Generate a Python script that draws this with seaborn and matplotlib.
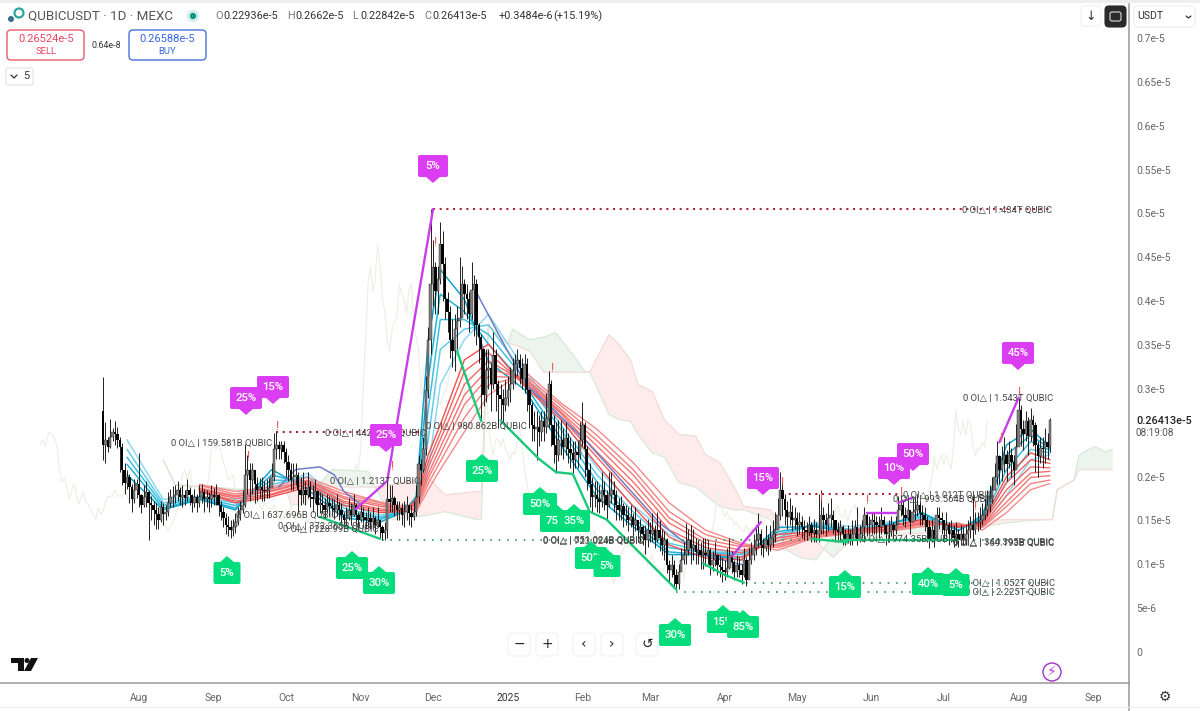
import numpy as np
import pandas as pd
import matplotlib
matplotlib.use('Agg')
import matplotlib.pyplot as plt
from matplotlib.patches import FancyBboxPatch, Rectangle, Circle, Polygon
import seaborn as sns

# --- DATA (precio en unidades de 1e-5, una vela por día) ---
START = '2024-07-17'
FIRST_OPEN = 0.275

close = [
    .236,.242,.234,.245,.251,.248,.242,.234,.208,.193,
    .199,.188,.174,.185,.191,.179,.168,.177,.182,.170,
    .168,.162,.157,.151,.165,.157,.160,.170,.177,.177,
    .179,.185,.177,.179,.176,.185,.179,.170,.177,.170,
    .177,.182,.174,.177,.174,.179,.177,.179,.168,.160,
    .153,.145,.143,.139,.143,.148,.156,.162,.168,.202,
    .208,.196,.208,.191,.185,.188,.185,.183,.185,.187,
    .199,.231,.236,.231,.236,.228,.217,.208,.196,.199,
    .202,.185,.179,.185,.179,.188,.177,.174,.183,.168,
    .170,.168,.162,.170,.166,.164,.162,.168,.162,.156,
    .151,.153,.162,.156,.168,.156,.151,.160,.154,.151,
    .153,.148,.153,.145,.151,.142,.136,.139,.174,.171,
    .176,.168,.162,.164,.156,.160,.168,.159,.154,.160,
    .177,.214,.208,.231,.299,.356,.419,.439,.411,.425,
    .465,.442,.402,.388,.356,.343,.368,.377,.381,.419,
    .408,.402,.385,.413,.419,.373,.359,.345,.293,.322,
    .324,.305,.339,.305,.293,.288,.282,.290,.299,.305,
    .320,.328,.333,.324,.311,.328,.299,.282,.259,.254,
    .256,.251,.263,.256,.267,.305,.259,.236,.225,.242,
    .242,.234,.244,.231,.227,.219,.228,.225,.242,.259,
    .231,.208,.191,.177,.179,.174,.171,.185,.179,.168,
    .179,.185,.179,.168,.162,.166,.156,.156,.151,.154,
    .145,.151,.139,.142,.134,.128,.139,.134,.139,.128,
    .139,.130,.122,.128,.099,.094,.099,.088,.077,.091,
    .105,.111,.116,.128,.119,.122,.114,.116,.111,.113,
    .111,.116,.099,.105,.111,.099,.097,.094,.091,.096,
    .111,.103,.091,.099,.094,.088,.105,.082,.105,.111,
    .119,.128,.134,.122,.119,.128,.122,.130,.134,.139,
    .156,.185,.174,.162,.154,.160,.151,.153,.145,.148,
    .143,.139,.137,.145,.136,.139,.134,.139,.156,.151,
    .145,.153,.156,.151,.139,.137,.142,.134,.128,.134,
    .128,.134,.142,.128,.134,.143,.156,.145,.145,.151,
    .148,.145,.142,.151,.145,.134,.137,.145,.139,.145,
    .162,.168,.156,.153,.162,.148,.160,.162,.168,.159,
    .156,.151,.142,.128,.139,.128,.156,.153,.151,.139,
    .145,.134,.139,.130,.134,.128,.134,.128,.134,.139,
    .145,.139,.147,.148,.151,.156,.162,.168,.174,.185,
    .199,.223,.208,.219,.225,.214,.225,.217,.208,.234,
    .276,.254,.248,.263,.246,.265,.259,.236,.223,.233,
    .231,.239,.234,.26413,
]
high = [
    .314,.262,.245,.266,.255,.263,.256,.245,.238,.215,
    .208,.203,.192,.197,.197,.227,.180,.190,.195,.185,
    .178,.172,.170,.165,.172,.170,.168,.182,.186,.189,
    .190,.195,.188,.190,.185,.197,.188,.180,.186,.180,
    .190,.192,.186,.185,.182,.190,.187,.192,.180,.172,
    .165,.158,.155,.150,.152,.158,.165,.172,.185,.237,
    .225,.215,.215,.205,.200,.198,.200,.195,.197,.198,
    .215,.250,.251,.240,.240,.240,.232,.225,.215,.215,
    .215,.205,.200,.205,.195,.205,.195,.190,.197,.185,
    .182,.180,.175,.180,.178,.176,.174,.180,.172,.170,
    .160,.165,.175,.170,.180,.170,.160,.170,.165,.160,
    .165,.160,.165,.155,.165,.150,.145,.148,.197,.190,
    .190,.178,.172,.172,.170,.172,.178,.168,.168,.172,
    .190,.225,.220,.245,.315,.370,.505,.470,.445,.440,
    .490,.480,.450,.410,.395,.380,.385,.395,.450,.440,
    .425,.420,.410,.445,.430,.425,.375,.362,.345,.345,
    .345,.330,.365,.345,.310,.305,.300,.310,.315,.325,
    .335,.340,.345,.340,.335,.340,.335,.300,.285,.275,
    .275,.270,.275,.275,.295,.320,.310,.270,.262,.265,
    .265,.255,.262,.250,.245,.240,.240,.240,.262,.285,
    .262,.235,.215,.200,.195,.195,.190,.205,.195,.185,
    .205,.205,.195,.185,.175,.178,.170,.168,.165,.168,
    .158,.165,.150,.152,.145,.145,.152,.148,.158,.145,
    .160,.150,.140,.138,.130,.105,.110,.105,.095,.100,
    .118,.125,.147,.140,.145,.140,.130,.128,.125,.130,
    .130,.128,.118,.115,.125,.112,.110,.108,.105,.118,
    .130,.115,.105,.110,.108,.100,.118,.108,.120,.125,
    .135,.145,.158,.140,.130,.145,.135,.145,.150,.160,
    .175,.205,.200,.180,.172,.175,.168,.165,.160,.160,
    .155,.150,.148,.155,.148,.152,.148,.180,.185,.165,
    .158,.170,.175,.162,.150,.148,.150,.145,.140,.145,
    .140,.150,.150,.165,.145,.150,.165,.160,.155,.160,
    .160,.155,.155,.165,.155,.145,.150,.155,.148,.155,
    .178,.180,.172,.165,.175,.162,.175,.178,.180,.172,
    .168,.165,.155,.150,.152,.145,.165,.165,.160,.150,
    .160,.148,.150,.145,.148,.140,.145,.142,.145,.150,
    .155,.178,.160,.160,.165,.170,.175,.185,.190,.200,
    .215,.240,.225,.235,.245,.230,.240,.232,.225,.260,
    .290,.282,.265,.275,.268,.278,.270,.262,.240,.245,
    .245,.255,.250,.2662,
]
low = [
    .219,.215,.228,.232,.240,.236,.232,.205,.190,.180,
    .186,.170,.160,.170,.175,.165,.158,.165,.165,.128,
    .150,.145,.140,.140,.148,.145,.150,.155,.165,.165,
    .170,.172,.167,.165,.168,.172,.168,.160,.165,.160,
    .165,.170,.160,.165,.160,.165,.168,.168,.155,.150,
    .142,.135,.132,.130,.132,.136,.145,.150,.158,.165,
    .180,.172,.180,.170,.172,.175,.172,.172,.175,.175,
    .190,.195,.220,.220,.220,.215,.200,.195,.185,.185,
    .190,.160,.168,.170,.168,.175,.165,.160,.170,.155,
    .158,.158,.152,.158,.155,.155,.152,.155,.150,.145,
    .142,.145,.150,.145,.155,.145,.140,.148,.142,.140,
    .142,.140,.142,.135,.142,.130,.128,.128,.130,.160,
    .160,.155,.150,.150,.145,.142,.150,.145,.142,.150,
    .155,.170,.190,.205,.225,.290,.340,.395,.385,.385,
    .420,.400,.380,.365,.335,.325,.320,.345,.370,.390,
    .385,.380,.365,.380,.360,.350,.330,.263,.280,.285,
    .300,.275,.300,.275,.255,.260,.262,.275,.280,.285,
    .300,.305,.315,.305,.300,.295,.275,.255,.240,.240,
    .219,.235,.240,.240,.250,.255,.235,.215,.204,.218,
    .225,.220,.225,.215,.210,.202,.210,.210,.220,.235,
    .200,.185,.165,.160,.165,.160,.158,.165,.162,.152,
    .165,.170,.160,.150,.150,.150,.142,.145,.138,.142,
    .132,.138,.125,.125,.122,.112,.120,.125,.125,.118,
    .125,.115,.110,.105,.090,.080,.085,.075,.071,.072,
    .095,.100,.100,.110,.100,.105,.100,.100,.095,.095,
    .098,.100,.088,.092,.098,.088,.085,.080,.082,.085,
    .095,.090,.082,.085,.085,.078,.085,.075,.085,.100,
    .105,.110,.120,.110,.108,.115,.110,.115,.120,.125,
    .145,.150,.155,.145,.140,.145,.138,.140,.132,.135,
    .130,.128,.128,.132,.125,.125,.125,.125,.135,.135,
    .132,.138,.142,.135,.125,.125,.128,.122,.122,.124,
    .122,.122,.130,.122,.125,.130,.125,.132,.133,.135,
    .135,.135,.130,.135,.135,.122,.125,.132,.130,.135,
    .148,.155,.145,.142,.150,.135,.148,.150,.155,.145,
    .145,.138,.125,.118,.125,.120,.130,.140,.135,.125,
    .130,.122,.125,.120,.122,.120,.122,.122,.122,.125,
    .130,.128,.135,.138,.140,.145,.150,.155,.160,.170,
    .185,.190,.192,.195,.205,.195,.210,.200,.190,.215,
    .245,.235,.230,.240,.225,.240,.235,.205,.200,.215,
    .210,.215,.220,.22842,
]

knots = [10,25,40,55,70,85,100,115,125,130,135,140,150,160,175,190,205,220,235,250,265,280,295,310,325,340,355,365,375,385,393]
blue1 = [.202,.162,.174,.162,.208,.185,.153,.148,.160,.177,.356,.436,.402,.331,.299,.236,.177,.143,.111,.111,.105,.142,.143,.136,.143,.159,.138,.156,.236,.254,.234]
blue2 = [.214,.164,.175,.164,.202,.191,.156,.151,.161,.174,.311,.408,.388,.351,.305,.244,.185,.148,.114,.111,.108,.137,.144,.137,.144,.158,.139,.153,.225,.247,.232]
blue3 = [.222,.167,.176,.167,.196,.195,.160,.153,.162,.170,.276,.379,.379,.362,.311,.254,.194,.153,.119,.113,.111,.134,.145,.138,.145,.155,.142,.150,.208,.240,.230]
blue4 = [.231,.170,.177,.170,.191,.200,.164,.154,.163,.167,.242,.345,.368,.373,.316,.259,.202,.160,.124,.114,.113,.130,.146,.140,.146,.153,.144,.146,.194,.231,.227]
blue5 = [.242,.174,.177,.174,.185,.204,.168,.156,.164,.162,.208,.305,.356,.385,.322,.267,.210,.167,.134,.116,.114,.126,.148,.143,.148,.151,.146,.143,.179,.219,.225]

red_knots = knots[2:]
red1 = [.183,.170,.177,.188,.167,.159,.160,.174,.225,.259,.333,.351,.303,.265,.214,.166,.122,.107,.105,.134,.137,.139,.143,.151,.142,.148,.200,.227,.219]
red2 = [.184,.172,.179,.191,.170,.161,.161,.171,.217,.250,.320,.341,.305,.268,.222,.177,.131,.113,.108,.130,.136,.138,.142,.150,.143,.147,.193,.219,.215]
red3 = [.185,.175,.180,.192,.172,.163,.162,.169,.210,.242,.305,.332,.308,.272,.228,.187,.139,.119,.113,.127,.135,.137,.140,.148,.144,.146,.185,.211,.210]
red4 = [.186,.177,.183,.194,.175,.166,.163,.167,.203,.233,.293,.323,.311,.274,.235,.194,.147,.124,.116,.123,.134,.137,.139,.147,.145,.144,.178,.204,.206]
red5 = [.187,.178,.184,.195,.177,.168,.163,.164,.198,.225,.282,.314,.313,.277,.241,.202,.153,.128,.120,.121,.132,.136,.139,.146,.145,.143,.171,.199,.201]
red6 = [.190,.180,.186,.196,.180,.170,.164,.162,.192,.217,.267,.304,.316,.281,.247,.208,.160,.134,.122,.119,.131,.136,.138,.145,.146,.142,.166,.192,.196]
red7 = [.191,.183,.188,.199,.183,.171,.166,.160,.185,.208,.251,.293,.320,.284,.254,.216,.170,.139,.124,.116,.130,.135,.137,.143,.147,.139,.159,.185,.192]

slate_a_idx = [73,80,90,96,100,107]
slate_a = [.188,.208,.211,.202,.183,.168]
slate_b_idx = [155,166,176,184,201,231,248,266]
slate_b = [.410,.353,.303,.284,.239,.147,.111,.099]

# nube ichimoku
cloud_idx = [25,30,60,76,78,84,88,95,110,113,120,135,142,155,157,160,168,170,177,183,188,195,200,202,210,214,219,222,228,233,239,246,250,256,262,266,277,281,290,296,303,310,320,335,345,355,365,375,385,394,396,403,405,409,412,416,419]
span_a = [.219,.191,.185,.185,.168,.168,.185,.208,.206,.188,.151,.156,.160,.151,.151,.373,.351,.368,.356,.359,.364,.339,.320,.319,.271,.265,.263,.248,.227,.222,.193,.188,.179,.166,.162,.162,.151,.120,.107,.105,.134,.139,.139,.142,.142,.143,.143,.147,.150,.151,.185,.196,.224,.231,.234,.228,.231]
span_b = [.219,.190,.183,.185,.188,.188,.186,.188,.188,.188,.191,.199,.179,.183,.183,.373,.351,.351,.343,.319,.319,.319,.319,.319,.362,.351,.333,.305,.297,.265,.248,.246,.225,.216,.188,.166,.162,.145,.131,.126,.108,.126,.130,.135,.136,.142,.150,.151,.151,.151,.185,.196,.208,.208,.208,.208,.208]

# zigzags (vela, precio)
pump_legs = [
    ([105,118,137], [.163,.195,.505]),
    ([261,273], [.109,.148]),
    ([317,329], [.159,.159]),
    ([330,336], [.170,.176]),
    ([372,380], [.239,.290]),
]
drop_legs = [
    ([90,115], [.154,.129]),
    ([147,157], [.343,.263]),
    ([165,181,188,195,202,209,238], [.264,.220,.205,.203,.160,.151,.071]),
    ([249,258,266], [.101,.088,.079]),
    ([294,309], [.129,.125]),
    ([307,355], [.128,.128]),
]

# niveles punteados (precio, vela inicial, vela final)
res_levels = [(.505,137,394), (.2505,72,133), (.180,282,330)]
sup_levels = [(.128,116,394), (.079,267,394), (.0685,238,394)]

price_ticks = [0,.05,.1,.15,.2,.3,.35,.4,.45,.5,.55,.6,.65,.7]
price_labels = ['0','5e-6','0.1e-5','0.15e-5','0.2e-5','0.3e-5','0.35e-5','0.4e-5','0.45e-5','0.5e-5','0.55e-5','0.6e-5','0.65e-5','0.7e-5']
month_labels = ['Aug','Sep','Oct','Nov','Dec','2025','Feb','Mar','Apr','May','Jun','Jul','Aug','Sep']

oi_labels = [
    (171,443,'0 OI△ | 159.581B QUBIC'),
    (325,433,'0 OI△ | 442.315B QUBIC'),
    (330,481,'0 OI△ | 1.213T QUBIC'),
    (236,515,'0 OI△ | 637.696B QUBIC'),
    (278,526,'0 OI△ | 372.365B QUBIC'),
    (283,529,'0 OI△ | 228.99B QUBIC'),
    (426,426,'0 OI△ | 980.862B QUBIC'),
    (543,540,'0 OI△ | 551.024B QUBIC'),
    (543,541,'0 OI△ | 723.024B QUBIC'),
    (962,210,'0 OI△ | 1.434T QUBIC'),
    (963,398,'0 OI△ | 1.543T QUBIC'),
    (903,495,'0 OI△ | 1.012T QUBIC'),
    (893,499,'0 OI△ | 993.564B QUBIC'),
    (861,539,'0 OI△ | 974.35B QUBIC'),
    (953,542,'0 OI△ | 344.395B QUBIC'),
    (953,543,'0 OI△ | 169.193B QUBIC'),
    (965,583,'0 OI△ | 1.052T QUBIC'),
    (965,592,'0 OI△ | 2.225T QUBIC'),
]
alert_marks = [(248,457),(277,427),(392,467),(418,477),(435,243),(552,368),(782,483),(821,499),(867,500),(901,492),(975,507),(1001,438),(1019,392)]

MAGENTA = '#db3df2'
GREEN = '#03dd7c'
# (centro x, centro y, ancho, texto, color, flecha arriba)
callouts = [
    (433,166,30,'5%',MAGENTA,False),
    (246,398,32,'25%',MAGENTA,False),
    (273,387,32,'15%',MAGENTA,False),
    (386,435,32,'25%',MAGENTA,False),
    (763,478,32,'15%',MAGENTA,False),
    (894,468,32,'10%',MAGENTA,False),
    (913,454,32,'50%',MAGENTA,False),
    (1018,353,32,'45%',MAGENTA,False),
    (227,573,27,'5%',GREEN,True),
    (352,568,32,'25%',GREEN,True),
    (379,583,32,'30%',GREEN,True),
    (482,471,32,'25%',GREEN,True),
    (540,504,34,'50%',GREEN,True),
    (556,521,32,'75%',GREEN,True),
    (574,521,32,'35%',GREEN,True),
    (591,558,32,'50%',GREEN,True),
    (607,566,27,'5%',GREEN,True),
    (675,635,32,'30%',GREEN,True),
    (723,622,32,'15%',GREEN,True),
    (743,627,32,'85%',GREEN,True),
    (845,587,32,'15%',GREEN,True),
    (928,584,32,'40%',GREEN,True),
    (956,585,27,'5%',GREEN,True),
]

# --- FIGURA ---
sns.set_theme(style='white')
plt.rcParams['font.family'] = ['Roboto', 'DejaVu Sans']

fig = plt.figure(figsize=(12, 7.11), dpi=100, facecolor='white')
ax = fig.add_axes([0, 28/711, 1129/1200, 679/711])

idx = np.arange(len(close))
opens = np.array([FIRST_OPEN] + close[:-1])
closes = np.array(close)
start = pd.Timestamp(START)

# nube
cx = np.array(cloud_idx)
sa = np.array(span_a)
sb = np.array(span_b)
ax.fill_between(cx, sa, sb, where=sa >= sb, interpolate=True, color='#ebf5ed', lw=0, zorder=1)
ax.fill_between(cx, sa, sb, where=sa <= sb, interpolate=True, color='#fdeceb', lw=0, zorder=1)
sns.lineplot(x=cx, y=sa, color='#d8ead9', lw=0.9, sort=False, estimator=None, ax=ax, zorder=1.2)
sns.lineplot(x=cx, y=sb, color='#f2dcd6', lw=0.9, sort=False, estimator=None, ax=ax, zorder=1.2)

# línea retrasada
sns.lineplot(x=idx - 26, y=closes, color='#f0efe6', lw=0.9, sort=False, estimator=None, ax=ax, zorder=1.3)

# cintas
for line, col in zip([blue5, blue4, blue3, blue2, blue1], ['#8fd8f0', '#62cbe8', '#3cc0e0', '#1fb4d8', '#12a4cc']):
    sns.lineplot(x=knots, y=line, color=col, lw=1.1, sort=False, estimator=None, ax=ax, zorder=2)
for line, col in zip([red7, red6, red5, red4, red3, red2, red1], ['#f58a8a', '#f58080', '#f47878', '#f47070', '#f36868', '#f26060', '#ef4f4f']):
    sns.lineplot(x=red_knots, y=line, color=col, lw=1.0, sort=False, estimator=None, ax=ax, zorder=2.1)
sns.lineplot(x=slate_a_idx, y=slate_a, color='#6f7fc8', lw=1.1, sort=False, estimator=None, ax=ax, zorder=2.2)
sns.lineplot(x=slate_b_idx, y=slate_b, color='#6f7fc8', lw=1.1, sort=False, estimator=None, ax=ax, zorder=2.2)

# velas
ax.vlines(idx, low, high, color='#111111', lw=0.65, zorder=3)
up = closes >= opens
bottoms = np.minimum(opens, closes)
heights = np.abs(closes - opens)
ax.bar(idx[up], heights[up], bottom=bottoms[up], width=1.0, color='#808080', edgecolor='#222222', lw=0.3, zorder=3.1)
ax.bar(idx[~up], heights[~up], bottom=bottoms[~up], width=1.0, color='#000000', lw=0, zorder=3.1)

# zigzags y niveles
for xs, ys in pump_legs:
    sns.lineplot(x=xs, y=ys, color='#c83cec', lw=1.7, sort=False, estimator=None, ax=ax, zorder=4)
for xs, ys in drop_legs:
    sns.lineplot(x=xs, y=ys, color='#19c878', lw=1.7, sort=False, estimator=None, ax=ax, zorder=4)
for p, a, b in res_levels:
    ax.plot([a, b], [p, p], color='#a52a3a', lw=1.5, ls=(0, (1, 2.2)), zorder=2.5)
for p, a, b in sup_levels:
    ax.plot([a, b], [p, p], color='#3a9a5e', lw=1.2, ls=(0, (1, 4)), zorder=2.5)

ax.set_xlim(-42.7, 425.8)
ax.set_ylim(-0.0354, 0.7388)
ax.set_xlabel('')
ax.set_ylabel('')

month_pos = [(d - start).days for d in pd.date_range('2024-08-01', periods=len(month_labels), freq='MS')]
ax.set_xticks(month_pos)
ax.set_xticklabels(month_labels, fontsize=7.5, color='#666666')
ax.get_xticklabels()[5].set_color('#333333')
ax.yaxis.tick_right()
ax.set_yticks(price_ticks)
ax.set_yticklabels(price_labels, fontsize=7.5, color='#666666')
ax.tick_params(axis='x', length=0, pad=7)
ax.tick_params(axis='y', length=0, pad=5)
for s in ['top', 'left']:
    ax.spines[s].set_visible(False)
for s in ['right', 'bottom']:
    ax.spines[s].set_color('#999999')
    ax.spines[s].set_linewidth(1.1)

# --- CAPA DE INTERFAZ (coordenadas en píxeles) ---
ui = fig.add_axes([0, 0, 1, 1], zorder=5)
ui.set_xlim(0, 1200)
ui.set_ylim(711, 0)
ui.axis('off')
ui.patch.set_alpha(0)

def box(x0, y0, w, h, fc='white', ec='#e6e6e6', lw=0.8, r=3, z=6):
    ui.add_patch(FancyBboxPatch((x0 + r, y0 + r), w - 2 * r, h - 2 * r, boxstyle=f'round,pad={r}', fc=fc, ec=ec, lw=lw, zorder=z))

ui.add_patch(Rectangle((0, 0), 1200, 3, fc='#eeeeee', ec='none'))
ui.plot([1129, 1129], [683, 711], color='#999999', lw=1.1)
ui.plot([0, 1200], [707, 707], color='#eeeeee', lw=0.8)

for lx, ly, txt in oi_labels:
    ui.text(lx, ly, txt, fontsize=6.8, color='#444444', va='center', ha='left', zorder=5)
for ax_x, ax_y in alert_marks:
    ui.text(ax_x, ax_y, '!', fontsize=9, color='#f0585a', ha='center', va='center', zorder=5)

z = 7
for cxp, cyp, w, txt, col, point_up in callouts:
    h = 22
    box(cxp - w / 2, cyp - h / 2, w, h, fc=col, ec=col, lw=0, r=2, z=z)
    if point_up:
        tri = [(cxp - 8, cyp - h / 2 + 1), (cxp, cyp - h / 2 - 6), (cxp + 8, cyp - h / 2 + 1)]
    else:
        tri = [(cxp - 8, cyp + h / 2 - 1), (cxp, cyp + h / 2 + 6), (cxp + 8, cyp + h / 2 - 1)]
    ui.add_patch(Polygon(tri, fc=col, ec='none', zorder=z))
    ui.text(cxp, cyp, txt, fontsize=8.2, fontweight='medium', color='white', ha='center', va='center', zorder=z + 0.5)
    z += 1

# cabecera
ui.text(28, 16, 'QUBICUSDT · 1D · MEXC', fontsize=9.6, color='#555555', va='center', zorder=30)
ui.add_patch(Circle((11, 19), 3, fc='#3a6c8c', ec='none', zorder=30))
ui.add_patch(Circle((19, 13), 4.5, fc='none', ec='#2aa6a0', lw=1.6, zorder=30))
ui.add_patch(Circle((193, 16), 6.5, fc='#d8f0ec', ec='none', zorder=30))
ui.add_patch(Circle((193, 16), 3.2, fc='#129a83', ec='none', zorder=30))
ohlc_parts = [(215,'O','0.22936e-5'),(287,'H','0.2662e-5'),(352,'L','0.22842e-5'),(424,'C','0.26413e-5')]
for hx, letter, val in ohlc_parts:
    ui.text(hx, 16, letter, fontsize=7.8, color='#777777', va='center', zorder=30)
    ui.text(hx + 8, 16, val, fontsize=7.8, color='#333333', va='center', zorder=30)
ui.text(499, 16, '+0.3484e-6', fontsize=7.8, color='#333333', va='center', zorder=30)
ui.text(553, 16, '(+15.19%)', fontsize=7.8, color='#333333', va='center', zorder=30)

box(7, 30, 77, 30, ec='#ea5a6e', lw=1, r=4, z=30)
ui.text(46, 39, '0.26524e-5', fontsize=8, color='#e8455c', ha='center', va='center', zorder=31)
ui.text(46, 52, 'SELL', fontsize=6.8, color='#e8455c', ha='center', va='center', zorder=31)
ui.text(106, 45, '0.64e-8', fontsize=6.4, color='#333333', ha='center', va='center', zorder=31)
box(129, 30, 77, 30, ec='#4a72e0', lw=1, r=4, z=30)
ui.text(167, 39, '0.26588e-5', fontsize=8, color='#3a66e0', ha='center', va='center', zorder=31)
ui.text(167, 52, 'BUY', fontsize=6.8, color='#3a66e0', ha='center', va='center', zorder=31)
box(6, 68, 27, 17, ec='#e3e3e3', r=2, z=30)
ui.plot([11, 14, 17], [75, 78, 75], color='#333333', lw=0.9, zorder=31)
ui.text(26, 76, '5', fontsize=8, color='#333333', ha='center', va='center', zorder=31)

# arriba a la derecha
box(1081, 6, 20, 20, ec='#f0f0f0', r=3, z=30)
ui.text(1091, 16, '↓', fontsize=9, color='#333333', ha='center', va='center', zorder=31)
box(1105, 6, 21, 21, fc='#2a2a2a', ec='#2a2a2a', r=4, z=30)
box(1110, 12, 11, 9, fc='#2a2a2a', ec='#dddddd', lw=0.8, r=2, z=31)
box(1134, 6, 61, 21, ec='#eeeeee', r=4, z=30)
ui.text(1137, 16, 'USDT', fontsize=7.6, color='#333333', va='center', zorder=31)
ui.plot([1186, 1188.5, 1191], [16, 18, 16], color='#333333', lw=0.9, zorder=31)

ui.text(1136, 421, '0.26413e-5', fontsize=7.8, color='#222222', va='center', zorder=31, fontweight='medium')
ui.text(1136, 433, '08:19:08', fontsize=7.2, color='#555555', va='center', zorder=31)

# botones de navegación
for bx, sym in [(519,'−'),(547,'+'),(584,'‹'),(612,'›'),(647,'↺')]:
    box(bx - 11, 633, 22, 23, ec='#f2f2f2', r=4, z=6)
    ui.text(bx, 644, sym, fontsize=10, color='#222222', ha='center', va='center', family=['DejaVu Sans'], zorder=6.5)

# logo
ui.add_patch(Polygon([(11,658),(24,658),(24,671),(18,671),(18,663),(11,663)], fc='#111111', ec='none'))
ui.add_patch(Circle((27, 660.5), 2.5, fc='#111111', ec='none'))
ui.add_patch(Polygon([(31,658),(38,658),(31,671),(24,671)], fc='#111111', ec='none'))

# rayo y engranaje
ui.add_patch(Circle((1052, 672), 9, fc='white', ec='#a02fc4', lw=1))
ui.text(1052, 672, '⚡', fontsize=10, color='#c23ae0', ha='center', va='center', family=['DejaVu Sans'])
ui.text(1165, 697, '⚙', fontsize=10, color='#333333', ha='center', va='center', family=['DejaVu Sans'])

fig.savefig('out.png', dpi=100)
